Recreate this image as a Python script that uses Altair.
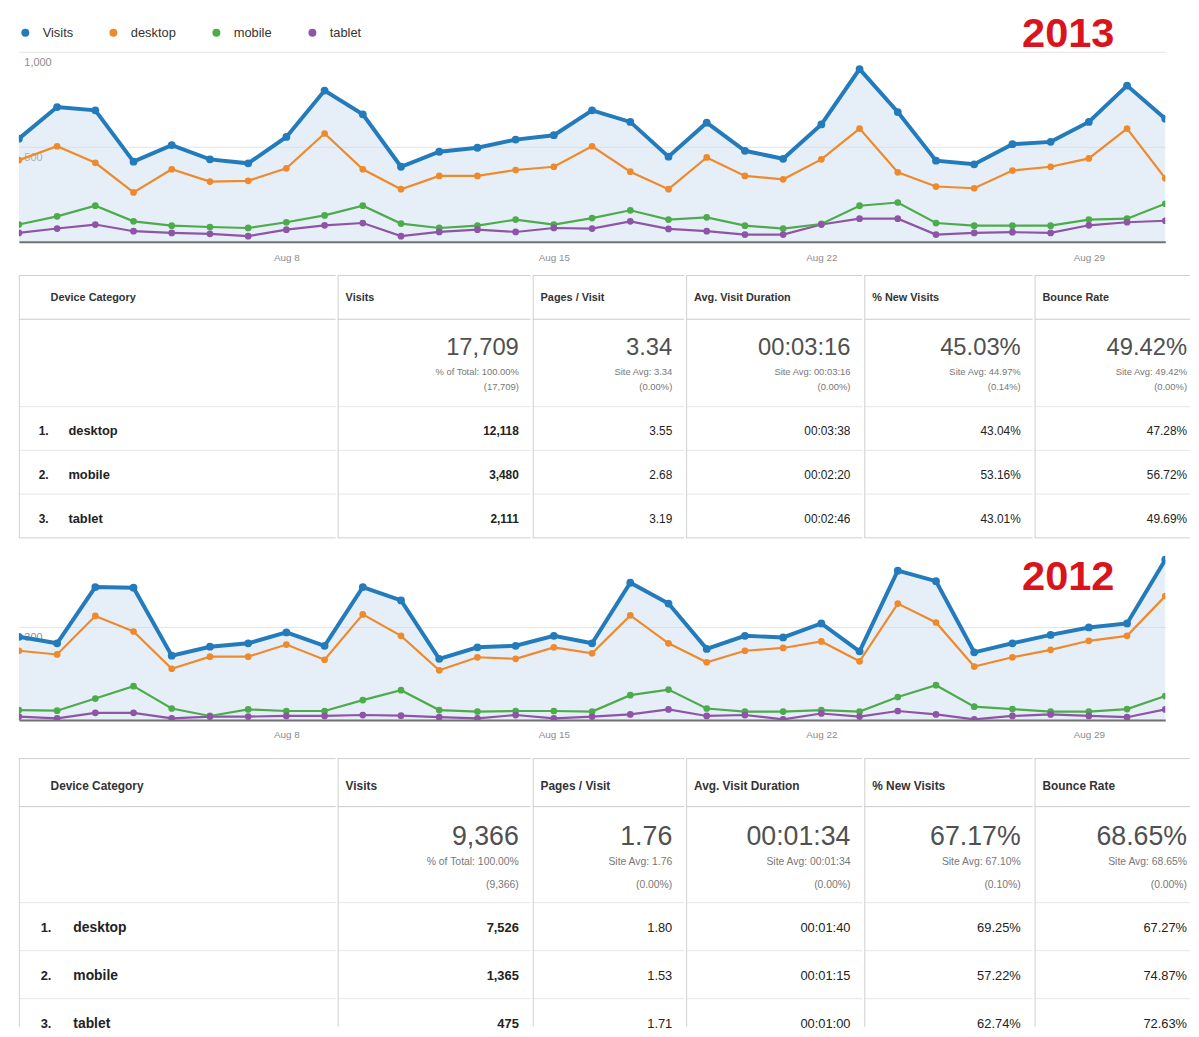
import altair as alt
import pandas as pd

# ------------------------------------------------------------------ data
DAYS = list(range(1, 32))
TICK_DAYS = [8, 15, 22, 29]
SERIES = ["Visits", "desktop", "mobile", "tablet"]

VISITS_2013 = [543, 709, 692, 422, 509, 434, 413, 552, 796, 671, 395, 474, 495, 538, 561, 692,
               631, 448, 627, 479, 437, 618, 909, 683, 427, 408, 514, 526, 631, 822, 648]
DESKTOP_2013 = [430, 503, 416, 260, 382, 317, 321, 387, 570, 382, 277, 347, 347, 378, 395,
                503, 369, 277, 444, 347, 329, 434, 596, 366, 291, 282, 375, 395, 439, 596, 334]
MOBILE_2013 = [91, 134, 190, 108, 85, 78, 73, 103, 139, 190, 96, 73, 85, 117, 91,
               125, 166, 117, 129, 85, 70, 94, 190, 207, 99, 85, 85, 85, 117, 122, 200]
TABLET_2013 = [47, 70, 91, 56, 47, 42, 30, 64, 87, 99, 30, 52, 64, 52, 73,
               70, 108, 68, 56, 38, 38, 91, 122, 122, 38, 47, 51, 47, 87, 103, 111]

VISITS_2012 = [268, 247, 428, 426, 207, 236, 247, 282, 239, 428, 385, 197, 234, 239, 271,
               247, 442, 375, 229, 271, 266, 311, 221, 481, 447, 218, 247, 274, 298, 311, 516]
DESKTOP_2012 = [223, 211, 335, 285, 165, 204, 204, 243, 194, 340, 271, 160, 202, 197, 234,
                215, 337, 247, 186, 223, 232, 253, 189, 375, 314, 172, 202, 226, 255, 271, 399]
MOBILE_2012 = [32, 30, 69, 109, 37, 13, 34, 29, 29, 64, 96, 32, 27, 29, 29,
               27, 80, 98, 37, 27, 27, 32, 27, 74, 112, 43, 35, 27, 27, 35, 77]
TABLET_2012 = [11, 5, 23, 23, 5, 11, 11, 13, 13, 16, 14, 9, 5, 16, 5,
               11, 18, 34, 13, 16, 2, 21, 11, 29, 18, 2, 13, 18, 13, 9, 34]

HEADERS = ["Device Category", "Visits", "Pages / Visit", "Avg. Visit Duration",
           "% New Visits", "Bounce Rate"]
DEVICES = ["desktop", "mobile", "tablet"]
RANKS = ["1.", "2.", "3."]

T13_TOTAL = ["17,709", "3.34", "00:03:16", "45.03%", "49.42%"]
T13_SITE = ["% of Total: 100.00%", "Site Avg: 3.34", "Site Avg: 00:03:16",
            "Site Avg: 44.97%", "Site Avg: 49.42%"]
T13_DELTA = ["(17,709)", "(0.00%)", "(0.00%)", "(0.14%)", "(0.00%)"]
T13_VISITS = ["12,118", "3,480", "2,111"]
T13_PAGES = ["3.55", "2.68", "3.19"]
T13_DURATION = ["00:03:38", "00:02:20", "00:02:46"]
T13_NEW = ["43.04%", "53.16%", "43.01%"]
T13_BOUNCE = ["47.28%", "56.72%", "49.69%"]

T12_TOTAL = ["9,366", "1.76", "00:01:34", "67.17%", "68.65%"]
T12_SITE = ["% of Total: 100.00%", "Site Avg: 1.76", "Site Avg: 00:01:34",
            "Site Avg: 67.10%", "Site Avg: 68.65%"]
T12_DELTA = ["(9,366)", "(0.00%)", "(0.00%)", "(0.10%)", "(0.00%)"]
T12_VISITS = ["7,526", "1,365", "475"]
T12_PAGES = ["1.80", "1.53", "1.71"]
T12_DURATION = ["00:01:40", "00:01:15", "00:01:00"]
T12_NEW = ["69.25%", "57.22%", "62.74%"]
T12_BOUNCE = ["67.27%", "74.87%", "72.63%"]

# ------------------------------------------------------------------ style
FONT = "Liberation Sans"
COLORS = ["#237bbb", "#ef8a2c", "#4cab4a", "#8e54a6"]
AREA_FILL = "#c8dbf0"
RED = "#d9141c"
GRID = "#e3e3e3"
AXIS_TEXT = "#8c8c8c"
BORDER = "#cfcfcf"
HEAD_LINE = "#c9c9c9"
ROW_LINE = "#e6e6e6"
ROW_BANDS = ["header", "total", "total2", "desktop", "mobile", "tablet"]
COL_WIDTHS = [320, 195, 153, 178, 170, 157]


def line_chart(year, series_values, y_max, y_ticks, width, height, show_legend, label_xy,
               x_label_pad):
    dates = [f"{year}-08-{d:02d}T00:00:00" for d in DAYS]
    records = [{"date": dt, "series": name, "value": v}
               for name, vals in zip(SERIES, series_values)
               for dt, v in zip(dates, vals)]
    df = pd.DataFrame(records)
    x = alt.X("date:T", title=None,
              scale=alt.Scale(domain=[alt.DateTime(year=year, month=8, date=1),
                                      alt.DateTime(year=year, month=8, date=31)], nice=False),
              axis=alt.Axis(values=[alt.DateTime(year=year, month=8, date=d) for d in TICK_DAYS],
                            format="%b %-d", labelAngle=0, ticks=False, grid=False,
                            domainColor="#707070", domainWidth=2, labelColor=AXIS_TEXT,
                            labelFontSize=10, labelPadding=x_label_pad, labelFlush=False,
                            zindex=1))
    y = alt.Y("value:Q", title=None,
              scale=alt.Scale(domain=[0, y_max], nice=False),
              axis=alt.Axis(values=y_ticks, format=",.0f", domain=False, ticks=False, tickSize=0,
                            grid=True, gridColor=GRID, labelAlign="left", labelBaseline="top",
                            labelPadding=-5, labelOffset=5, labelColor=AXIS_TEXT,
                            labelFontSize=11, labelFlush=False))
    cscale = alt.Scale(domain=SERIES, range=COLORS)
    if show_legend:
        legend = alt.Legend(title=None, orient="top", direction="horizontal",
                            symbolType="circle", symbolSize=64, symbolStrokeWidth=0,
                            labelFontSize=13, labelColor="#333333", labelOffset=11,
                            columnPadding=34, offset=12, padding=0)
    else:
        legend = None
    color_enc = alt.Color("series:N", scale=cscale, legend=legend)

    base = alt.Chart(df).encode(x=x, y=y)
    layers = [base.transform_filter(alt.datum.series == "Visits").mark_area(
        color=AREA_FILL, opacity=0.45, clip=True)]
    # thin lines for the device series, drawn under the Visits line
    for name, col in zip(SERIES[::-1][:3], COLORS[::-1][:3]):
        layers.append(base.transform_filter(alt.datum.series == name).mark_line(
            color=col, strokeWidth=2.2, clip=True))
    layers.append(base.transform_filter(alt.datum.series != "Visits").mark_circle(
        size=46, opacity=1, clip=True).encode(color=color_enc))
    layers.append(base.transform_filter(alt.datum.series == "Visits").mark_line(
        color=COLORS[0], strokeWidth=4, clip=True))
    layers.append(base.transform_filter(alt.datum.series == "Visits").mark_circle(
        size=62, opacity=1, clip=True).encode(color=color_enc))
    layers.append(alt.Chart(pd.DataFrame({"label": [str(year)]})).mark_text(
        fontSize=42, fontWeight="bold", color=RED, align="center", baseline="middle"
    ).encode(text="label:N", x=alt.value(label_xy[0]), y=alt.value(label_xy[1])))
    return alt.layer(*layers).properties(width=width, height=height)


def table(height, y_range, totals, site, delta, metrics, fs, dy, name_x, bottom_border):
    ys = alt.Scale(type="band", domain=ROW_BANDS, range=y_range, paddingInner=0, paddingOuter=0)

    def Y(bp=None):
        if bp is None:
            return alt.Y("row:N", scale=ys, axis=None, title=None)
        return alt.Y("row:N", scale=ys, axis=None, title=None, bandPosition=bp)

    v_end = y_range[1] if bottom_border else height
    panels = []
    for j, w in enumerate(COL_WIDTHS):
        L = []
        L.append(alt.Chart(pd.DataFrame({"row": ["header"]})).mark_rule(
            color=BORDER, strokeWidth=1).encode(y=Y(0)))
        L.append(alt.Chart(pd.DataFrame({"row": ["total"]})).mark_rule(
            color=HEAD_LINE, strokeWidth=1).encode(y=Y(0)))
        L.append(alt.Chart(pd.DataFrame({"row": DEVICES})).mark_rule(
            color=ROW_LINE, strokeWidth=1).encode(y=Y(0)))
        if bottom_border:
            L.append(alt.Chart(pd.DataFrame({"row": ["tablet"]})).mark_rule(
                color=BORDER, strokeWidth=1).encode(y=Y(1)))
        L.append(alt.Chart(pd.DataFrame({"row": ["header"]})).mark_rule(
            color=BORDER, strokeWidth=1).encode(x=alt.value(0.5), y=Y(0), y2=alt.value(v_end)))

        hx = 32 if j == 0 else 8
        L.append(alt.Chart(pd.DataFrame({"row": ["header"], "text": [HEADERS[j]]})).mark_text(
            align="left", fontSize=fs["head"], fontWeight="bold", color="#333333", dy=dy["head"]
        ).encode(x=alt.value(hx), y=Y(), text="text:N"))

        if j == 0:
            L.append(alt.Chart(pd.DataFrame({"row": DEVICES, "text": RANKS})).mark_text(
                align="left", fontSize=fs["row"], fontWeight="bold", color="#222222", dy=dy["row"]
            ).encode(x=alt.value(name_x[0]), y=Y(), text="text:N"))
            L.append(alt.Chart(pd.DataFrame({"row": DEVICES, "text": DEVICES})).mark_text(
                align="left", fontSize=fs["name"], fontWeight="bold", color="#222222", dy=dy["row"]
            ).encode(x=alt.value(name_x[1]), y=Y(), text="text:N"))
        else:
            k = j - 1
            rx = w - (3 if j == len(COL_WIDTHS) - 1 else 12)
            L.append(alt.Chart(pd.DataFrame({"row": ["total"], "text": [totals[k]]})).mark_text(
                align="right", fontSize=fs["big"], color="#505050", dy=dy["big"]
            ).encode(x=alt.value(rx), y=Y(), text="text:N"))
            L.append(alt.Chart(pd.DataFrame({"row": ["total2"], "text": [site[k]]})).mark_text(
                align="right", fontSize=fs["sub"], color="#777777", dy=dy["site"]
            ).encode(x=alt.value(rx), y=Y(), text="text:N"))
            L.append(alt.Chart(pd.DataFrame({"row": ["total2"], "text": [delta[k]]})).mark_text(
                align="right", fontSize=fs["sub"], color="#777777", dy=dy["delta"]
            ).encode(x=alt.value(rx), y=Y(), text="text:N"))
            L.append(alt.Chart(pd.DataFrame({"row": DEVICES, "text": metrics[k]})).mark_text(
                align="right", fontSize=fs["row"], fontWeight=("bold" if j == 1 else "normal"),
                color="#222222", dy=dy["row"]
            ).encode(x=alt.value(rx), y=Y(), text="text:N"))
        panels.append(alt.layer(*L).properties(width=w, height=height))
    return alt.hconcat(*panels, spacing=0).resolve_scale(y="independent")


c13 = line_chart(2013, [VISITS_2013, DESKTOP_2013, MOBILE_2013, TABLET_2013],
                 1000, [500, 1000], 1158, 192, True, (1060, -18), 11)
t13 = table(267, [0, 265], T13_TOTAL, T13_SITE, T13_DELTA,
            [T13_VISITS, T13_PAGES, T13_DURATION, T13_NEW, T13_BOUNCE],
            {"head": 11, "big": 24, "sub": 9.5, "row": 12, "name": 13},
            {"head": 1, "big": 7, "site": -13, "delta": 2, "row": 3},
            (20, 50), True)
c12 = line_chart(2012, [VISITS_2012, DESKTOP_2012, MOBILE_2012, TABLET_2012],
                 542, [300], 1158, 170, False, (1060, 26), 10)
t12 = table(278, [7, 298], T12_TOTAL, T12_SITE, T12_DELTA,
            [T12_VISITS, T12_PAGES, T12_DURATION, T12_NEW, T12_BOUNCE],
            {"head": 12, "big": 27, "sub": 10.5, "row": 13, "name": 14},
            {"head": 3, "big": 7, "site": -17, "delta": 6, "row": 1},
            (22, 55), False)

chart = alt.vconcat(c13, t13, c12, t12, spacing=12).resolve_scale(
    x="independent", y="independent", color="independent"
).properties(
    padding={"left": 10, "top": 0, "right": 0, "bottom": 0}
).configure(font=FONT, background="white").configure_view(stroke=None)

chart.save("out.html", embed_options={"renderer": "svg", "actions": False})
